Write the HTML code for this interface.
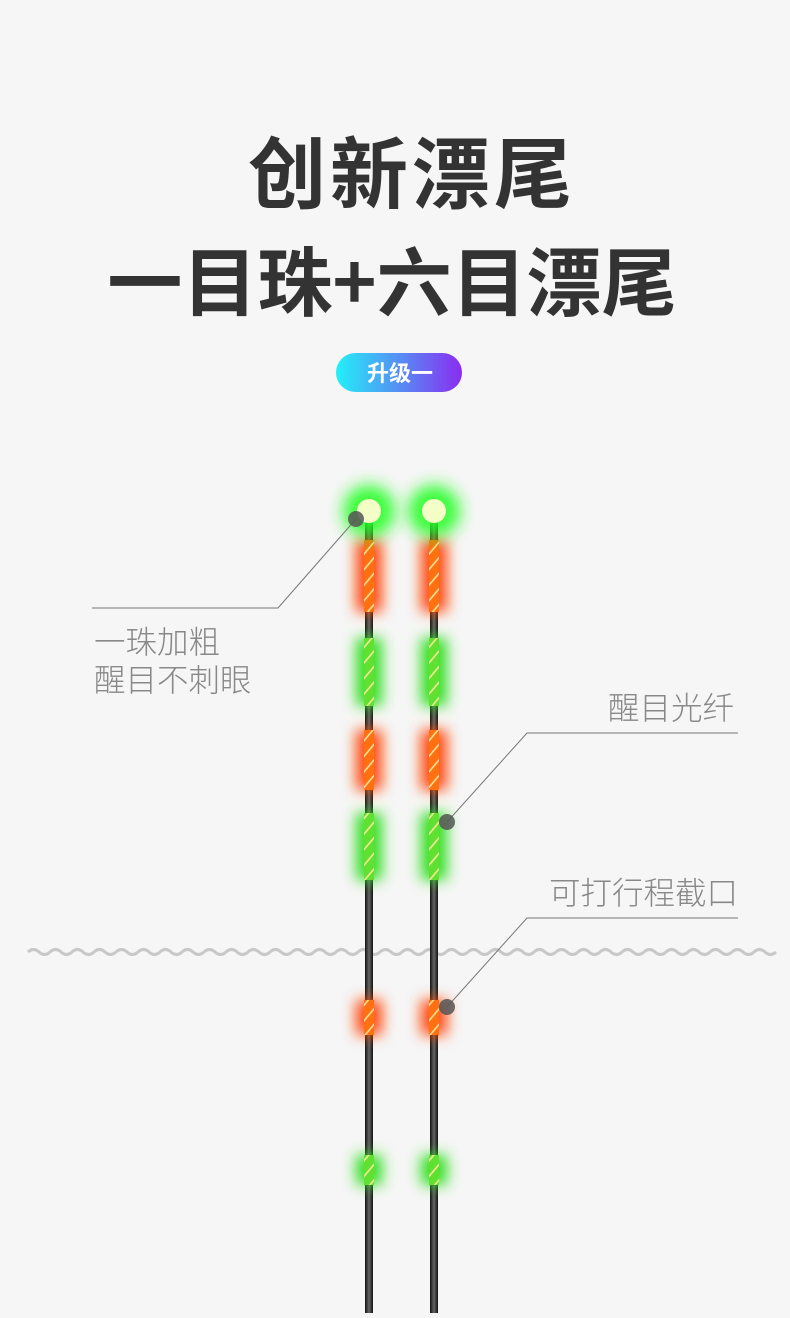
<!DOCTYPE html>
<html><head><meta charset="utf-8"><style>
body{margin:0;background:#f6f6f6;width:790px;height:1313px;overflow:hidden;font-family:"Liberation Sans","Noto Sans CJK SC",sans-serif}
</style></head><body>
<svg width="790" height="1313" xmlns="http://www.w3.org/2000/svg">
<defs>
<linearGradient id="pg" x1="0" x2="1"><stop offset="0" stop-color="#22f0f8"/><stop offset="1" stop-color="#8a2cf0"/></linearGradient>
<linearGradient id="rod" x1="0" x2="1"><stop offset="0" stop-color="#111"/><stop offset="0.5" stop-color="#666"/><stop offset="1" stop-color="#111"/></linearGradient>
<filter id="bl" x="-300%" y="-50%" width="700%" height="200%"><feGaussianBlur stdDeviation="7"/></filter>
<filter id="bl2" x="-100%" y="-100%" width="300%" height="300%"><feGaussianBlur stdDeviation="8"/></filter>
<pattern id="st" width="10" height="10" patternUnits="userSpaceOnUse" patternTransform="rotate(-50)"><line x1="0" y1="5" x2="10" y2="5" stroke="#ffe9a0" stroke-width="1.5"/></pattern>
</defs>
<text x="412" y="202" text-anchor="middle" font-size="78" letter-spacing="4" font-weight="bold" fill="#333" font-family="Noto Sans CJK SC, sans-serif">创新漂尾</text>
<text x="392" y="310" text-anchor="middle" font-size="75" font-weight="bold" fill="#333" font-family="Noto Sans CJK SC, sans-serif">一目珠+六目漂尾</text>
<rect x="336" y="353" width="126" height="39" rx="19.5" fill="url(#pg)"/>
<text x="400" y="381" text-anchor="middle" font-size="22" font-weight="bold" fill="#fff" font-family="Noto Sans CJK SC, sans-serif">升级一</text>
<path d="M28 952 q5.5 -5 11 0 t11 0 t11 0 t11 0 t11 0 t11 0 t11 0 t11 0 t11 0 t11 0 t11 0 t11 0 t11 0 t11 0 t11 0 t11 0 t11 0 t11 0 t11 0 t11 0 t11 0 t11 0 t11 0 t11 0 t11 0 t11 0 t11 0 t11 0 t11 0 t11 0 t11 0 t11 0 t11 0 t11 0 t11 0 t11 0 t11 0 t11 0 t11 0 t11 0 t11 0 t11 0 t11 0 t11 0 t11 0 t11 0 t11 0 t11 0 t11 0 t11 0 t11 0 t11 0 t11 0 t11 0 t11 0 t11 0 t11 0 t11 0 t11 0 t11 0 t11 0 t11 0 t11 0 t11 0 t11 0 t11 0 t11 0 t11 0" fill="none" stroke="#c8c8c8" stroke-width="3"/>
<g id="r1">
<rect x="365" y="515" width="8" height="798" fill="url(#rod)"/>
<g filter="url(#bl)">
<rect x="356" y="540" width="26" height="72" fill="#ff4a10"/>
<rect x="356" y="638" width="26" height="68" fill="#30e020"/>
<rect x="356" y="730" width="26" height="60" fill="#ff4a10"/>
<rect x="356" y="813" width="26" height="67" fill="#30e020"/>
<rect x="356" y="1000" width="26" height="35" fill="#ff4a10"/>
<rect x="356" y="1155" width="26" height="30" fill="#30e020"/>
</g>
<rect x="364" y="540" width="10" height="72" fill="#ff7010"/><rect x="364" y="540" width="10" height="72" fill="url(#st)"/>
<rect x="364" y="638" width="10" height="68" fill="#60e030"/><rect x="364" y="638" width="10" height="68" fill="url(#st)"/>
<rect x="364" y="730" width="10" height="60" fill="#ff7010"/><rect x="364" y="730" width="10" height="60" fill="url(#st)"/>
<rect x="364" y="813" width="10" height="67" fill="#60e030"/><rect x="364" y="813" width="10" height="67" fill="url(#st)"/>
<rect x="364" y="1000" width="10" height="35" fill="#ff7010"/><rect x="364" y="1000" width="10" height="35" fill="url(#st)"/>
<rect x="364" y="1155" width="10" height="30" fill="#60e030"/><rect x="364" y="1155" width="10" height="30" fill="url(#st)"/>
<circle cx="369" cy="511" r="26" fill="#20ff20" filter="url(#bl2)" opacity="0.9"/>
<circle cx="369" cy="511" r="12" fill="#f4ffc8"/>
</g>
<use href="#r1" x="65"/>
<g stroke="#777" stroke-width="1" fill="none">
<polyline points="356,519 278,608 92,608"/>
<polyline points="447,822 527,733 738,733"/>
<polyline points="447,1007 527,918 738,918"/>
</g>
<circle cx="356" cy="519" r="8" fill="#555" opacity="0.85"/>
<circle cx="447" cy="822" r="8" fill="#555" opacity="0.85"/>
<circle cx="447" cy="1007" r="8" fill="#555" opacity="0.85"/>
<g font-size="31.5" font-weight="300" fill="#888" font-family="Noto Sans CJK SC, sans-serif">
<text x="94" y="653">一珠加粗</text>
<text x="94" y="691">醒目不刺眼</text>
<text x="734" y="719" text-anchor="end">醒目光纤</text>
<text x="738" y="904" text-anchor="end">可打行程截口</text>
</g>
</svg>
</body></html>
